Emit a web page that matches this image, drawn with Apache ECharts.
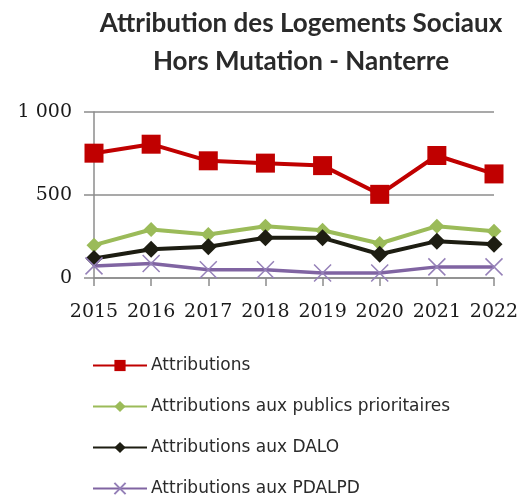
<!DOCTYPE html>
<html>
<head>
<meta charset="utf-8">
<script src="https://cdn.jsdelivr.net/npm/echarts@6/dist/echarts.min.js"></script>
<style>
  html, body { margin: 0; padding: 0; background: #fff; }
  #container_1 { width: 531px; height: 499px; }
</style>
</head>
<body>
<div id="container_1"></div>
<script>
// données
var annees = ["2015", "2016", "2017", "2018", "2019", "2020", "2021", "2022"];
var attributions = [752, 806, 706, 692, 677, 504, 738, 627];
var publicsPrioritaires = [198, 292, 262, 312, 288, 208, 312, 282];
var dalo = [117, 173, 188, 242, 242, 143, 222, 204];
var pdalpd = [73, 87, 50, 50, 30, 30, 67, 67];

var chartDom_1 = document.getElementById("container_1");
var myChart = echarts.init(chartDom_1, null, { renderer: "canvas" });

function serie(nom, data, couleur, symbole, taille, largeur) {
  return {
    name: nom,
    type: "line",
    data: data,
    symbol: symbole,
    symbolSize: taille,
    lineStyle: { color: couleur, width: largeur },
    itemStyle: { color: couleur },
    emphasis: { disabled: true },
    z: 3
  };
}

var croix = "path://M0,0L10,10M10,0L0,10";

var option = {
  animation: false,
  backgroundColor: "#fff",
  title: {
    text: "Attribution des Logements Sociaux\nHors Mutation - Nanterre",
    left: 296,
    top: 0,
    textAlign: "center",
    textStyle: {
      fontFamily: "Lato",
      fontWeight: "bold",
      fontSize: 26,
      lineHeight: 38,
      color: "#2a2a2a"
    }
  },
  grid: { left: 94, right: 37, top: 112, bottom: 221, containLabel: false },
  xAxis: {
    type: "category",
    data: annees,
    boundaryGap: false,
    axisLine: { lineStyle: { color: "#8c8c8c", width: 1.5 } },
    axisTick: { show: true, length: 8, lineStyle: { color: "#8c8c8c", width: 1.5 } },
    axisLabel: { interval: 0, margin: 25, fontFamily: "DejaVu Serif", fontSize: 19, color: "#1a1a1a" },
    splitLine: { show: false }
  },
  yAxis: {
    type: "value",
    min: 0,
    max: 1000,
    interval: 500,
    axisLine: { show: true, lineStyle: { color: "#8c8c8c", width: 1.5 } },
    axisTick: { show: true, length: 10, lineStyle: { color: "#8c8c8c", width: 1.5 } },
    axisLabel: {
      margin: 22,
      fontFamily: "DejaVu Serif",
      fontSize: 19,
      color: "#1a1a1a",
      formatter: function (v) { return v === 1000 ? "1 000" : String(v); }
    },
    splitLine: { lineStyle: { color: "#8c8c8c", width: 1.5 } }
  },
  legend: {
    orient: "vertical",
    left: 87,
    top: 352,
    height: 170,
    itemWidth: 54,
    itemHeight: 14,
    itemGap: 24,
    textStyle: { fontFamily: "DejaVu Sans", fontSize: 17, color: "#2a2a2a", padding: [0, 0, 0, -1] },
    data: ["Attributions", "Attributions aux publics prioritaires", "Attributions aux DALO", "Attributions aux PDALPD"]
  },
  series: [
    serie("Attributions", attributions, "#c00000", "rect", 19, 4),
    serie("Attributions aux publics prioritaires", publicsPrioritaires, "#9bbb59", "diamond", 15, 4),
    serie("Attributions aux DALO", dalo, "#1d1d12", "diamond", 17, 4),
    {
      name: "Attributions aux PDALPD",
      type: "line",
      data: pdalpd,
      symbol: croix,
      symbolSize: 17,
      lineStyle: { color: "#8064a2", width: 3.5 },
      itemStyle: { color: "none", borderColor: "#9580b8", borderWidth: 1.5 },
      emphasis: { disabled: true },
      z: 3
    }
  ]
};

myChart.setOption(option);
</script>
</body>
</html>
